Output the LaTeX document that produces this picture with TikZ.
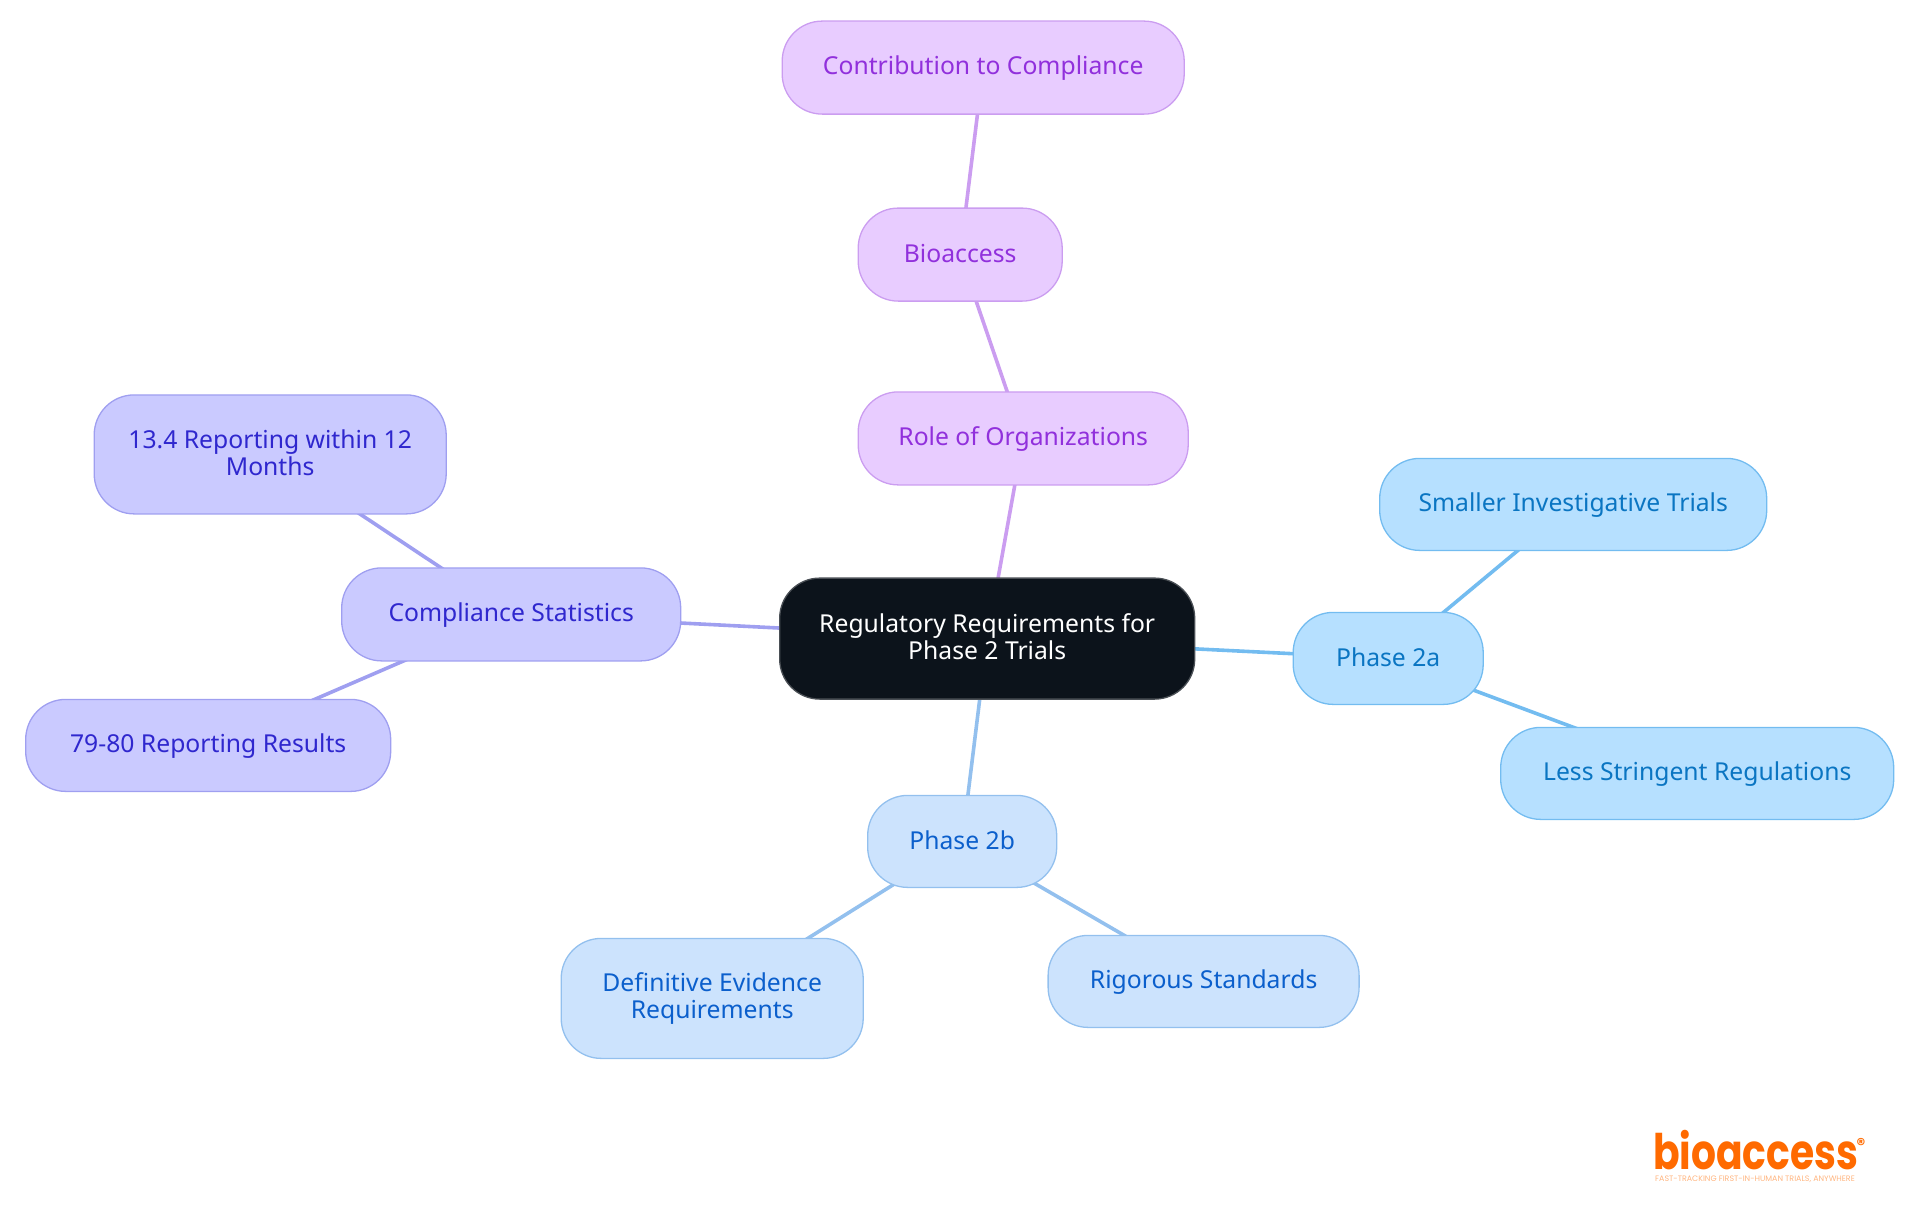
\documentclass[tikz,border=0pt]{standalone}
\usepackage{fontspec}
\usetikzlibrary{backgrounds}
\setmainfont{Noto Sans}
\newfontfamily\logofont[FakeStretch=0.8]{Poppins}
\newfontfamily\tagfont{Poppins}
\definecolor{rootfill}{HTML}{0C131B}
\definecolor{rootline}{HTML}{4A4F55}
\definecolor{orgfill}{HTML}{E8CCFF}
\definecolor{orgline}{HTML}{CB9DF0}
\definecolor{orgtext}{HTML}{9130DC}
\definecolor{statfill}{HTML}{CACAFF}
\definecolor{statline}{HTML}{9F9FF0}
\definecolor{stattext}{HTML}{2F27CE}
\definecolor{alphafill}{HTML}{B6E0FF}
\definecolor{alphaline}{HTML}{73BCF0}
\definecolor{alphatext}{HTML}{0A75C2}
\definecolor{betafill}{HTML}{CCE3FD}
\definecolor{betaline}{HTML}{93C0EE}
\definecolor{betatext}{HTML}{0B5FCC}
\definecolor{logoorange}{HTML}{FF6A00}
\newcommand{\mapstrut}{\rule[-4pt]{0pt}{24pt}}
\tikzset{mapnode/.style={rounded corners=40pt, line width=1.3pt, inner sep=0pt, align=center, font=\fontsize{24.7}{27}\selectfont, execute at begin node=\mapstrut, execute at end node=\mapstrut}}
\tikzset{link/.style={line width=3.6pt}}
\tikzset{rootnode/.style={mapnode, fill=rootfill, draw=rootline, text=white}}
\tikzset{orgnode/.style={mapnode, fill=orgfill, draw=orgline, text=orgtext}}
\tikzset{statnode/.style={mapnode, fill=statfill, draw=statline, text=stattext}}
\tikzset{alphanode/.style={mapnode, fill=alphafill, draw=alphaline, text=alphatext}}
\tikzset{betanode/.style={mapnode, fill=betafill, draw=betaline, text=betatext}}
\begin{document}
\begin{tikzpicture}[x=1pt, y=-1pt]
    \useasboundingbox (0, 0) rectangle (1920, 1215);
    \node [rootnode, minimum width=415, minimum height=121] (root) at (987.2, 638.6) {Regulatory Requirements for\\Phase 2 Trials};
    \node [orgnode, minimum width=330, minimum height=93] (role) at (1023.2, 438.4) {Role of Organizations};
    \node [orgnode, minimum width=204, minimum height=93] (bio) at (960.2, 254.6) {Bioaccess};
    \node [orgnode, minimum width=402, minimum height=93] (contrib) at (983.2, 67.6) {Contribution to Compliance};
    \node [statnode, minimum width=339, minimum height=93] (stats) at (511.2, 614.4) {Compliance Statistics};
    \node [statnode, minimum width=352, minimum height=119] (within) at (270.2, 454.4) {13.4 Reporting within 12\\Months};
    \node [statnode, minimum width=365, minimum height=92] (results) at (208.2, 745.4) {79-80 Reporting Results};
    \node [alphanode, minimum width=190, minimum height=92] (alpha) at (1388.2, 658.4) {Phase 2a};
    \node [alphanode, minimum width=387, minimum height=92] (small) at (1573.2, 504.4) {Smaller Investigative Trials};
    \node [alphanode, minimum width=393, minimum height=92] (less) at (1697.2, 773.4) {Less Stringent Regulations};
    \node [betanode, minimum width=189, minimum height=92] (beta) at (962.2, 841.4) {Phase 2b};
    \node [betanode, minimum width=302, minimum height=120] (evidence) at (712.2, 998.4) {Definitive Evidence\\Requirements};
    \node [betanode, minimum width=311, minimum height=92] (rigor) at (1203.6, 981.4) {Rigorous Standards};
    % branches
    \begin{scope}[on background layer]
        \draw [link, draw=orgline] (root.center) -- (role.center);
        \draw [link, draw=orgline] (role.center) -- (bio.center);
        \draw [link, draw=orgline] (bio.center) -- (contrib.center);
        \draw [link, draw=statline] (root.center) -- (stats.center);
        \draw [link, draw=statline] (stats.center) -- (within.center);
        \draw [link, draw=statline] (stats.center) -- (results.center);
        \draw [link, draw=alphaline] (root.center) -- (alpha.center);
        \draw [link, draw=alphaline] (alpha.center) -- (small.center);
        \draw [link, draw=alphaline] (alpha.center) -- (less.center);
        \draw [link, draw=betaline] (root.center) -- (beta.center);
        \draw [link, draw=betaline] (beta.center) -- (evidence.center);
        \draw [link, draw=betaline] (beta.center) -- (rigor.center);
    \end{scope}
    % logo
    \node [inner sep=0pt, anchor=base west, text=logoorange, font=\logofont\fontsize{49}{49}\selectfont\bfseries] (logo) at (1653, 1169) {bioaccess};
    \node [inner sep=0pt, text=logoorange, font=\tagfont\bfseries\fontsize{17}{17}\selectfont] (reg) at (1861, 1144) {®};
    \node [inner sep=0pt, anchor=base west, text=logoorange!50, font=\tagfont\fontsize{7.9}{8}\selectfont] (tag) at (1655, 1181) {FAST-TRACKING FIRST-IN-HUMAN TRIALS, ANYWHERE};
\end{tikzpicture}
\end{document}
